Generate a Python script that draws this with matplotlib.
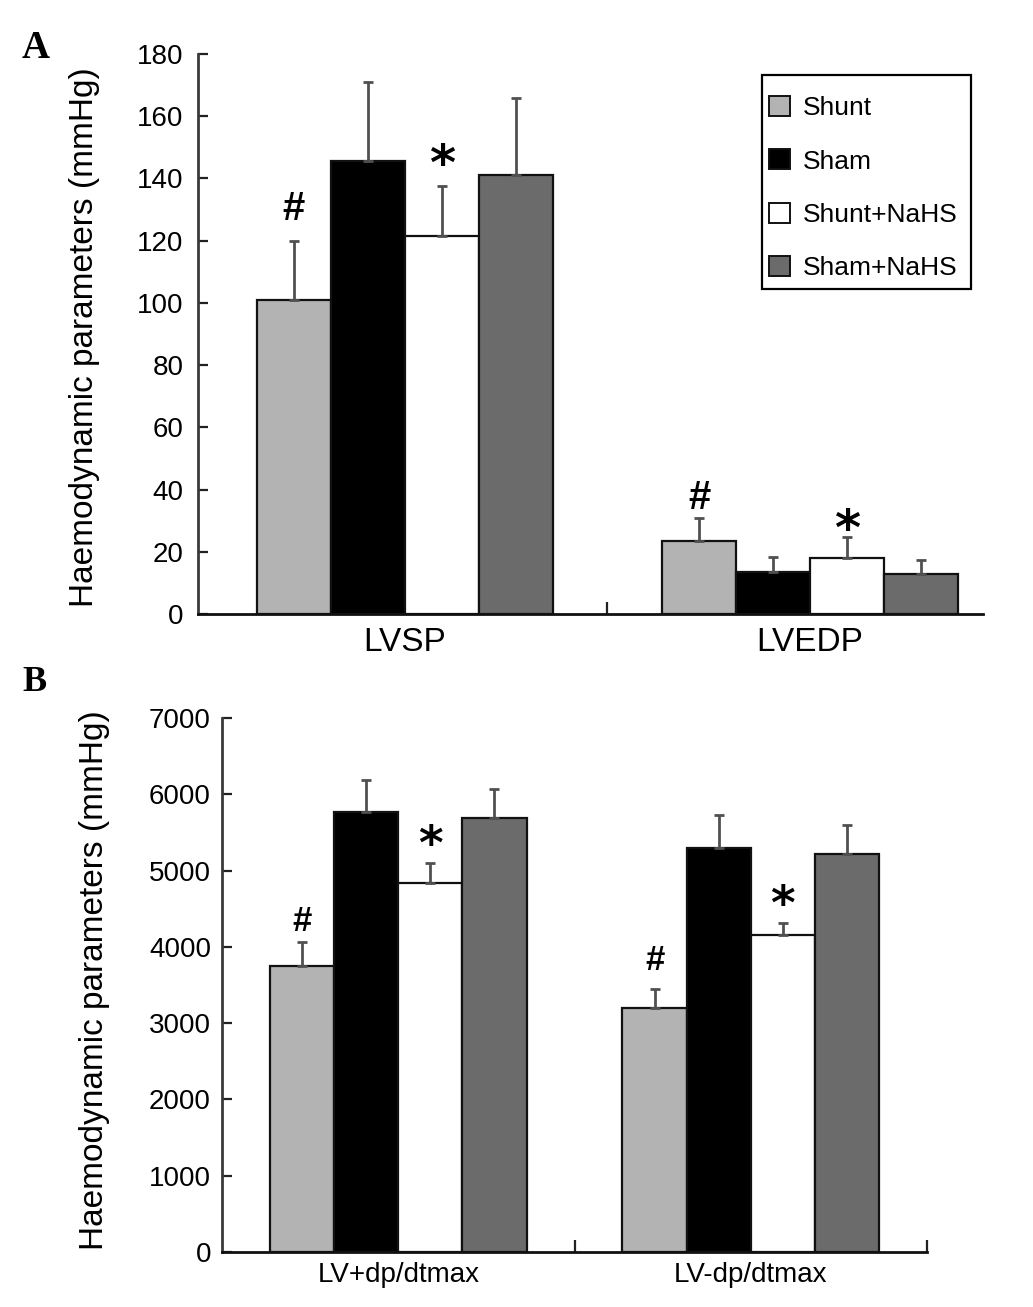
import matplotlib
matplotlib.use("Agg")
import matplotlib.pyplot as plt
import numpy as np
from matplotlib.patches import Patch, Rectangle
from matplotlib.ticker import FixedLocator

plt.rcParams['font.family'] = ['Liberation Sans', 'DejaVu Sans']

# ---------------- data ----------------
groups = ["Shunt", "Sham", "Shunt+NaHS", "Sham+NaHS"]
colors = ["#b3b3b3", "#000000", "#ffffff", "#6b6b6b"]

cats_a = ["LVSP", "LVEDP"]
mean_a = {
    "Shunt":      [101.0, 23.5],
    "Sham":       [145.5, 13.5],
    "Shunt+NaHS": [121.5, 18.1],
    "Sham+NaHS":  [141.0, 13.0],
}
err_a = {
    "Shunt":      [19.0, 7.4],
    "Sham":       [25.5, 4.9],
    "Shunt+NaHS": [16.0, 6.8],
    "Sham+NaHS":  [25.0, 4.4],
}
yticks_a = [0, 20, 40, 60, 80, 100, 120, 140, 160, 180]

cats_b = ["LV+dp/dtmax", "LV-dp/dtmax"]
mean_b = {
    "Shunt":      [3750, 3205],
    "Sham":       [5765, 5300],
    "Shunt+NaHS": [4835, 4150],
    "Sham+NaHS":  [5695, 5215],
}
err_b = {
    "Shunt":      [320, 245],
    "Sham":       [420, 430],
    "Shunt+NaHS": [270, 165],
    "Sham+NaHS":  [380, 380],
}
yticks_b = [0, 1000, 2000, 3000, 4000, 5000, 6000, 7000]

# significance marks: (group, symbol)
marks = [("Shunt", "#"), ("Shunt+NaHS", "*")]

ylabel = "Haemodynamic parameters (mmHg)"

# ---------------- figure ----------------
W, H = 1033, 1307
fig = plt.figure(figsize=(W / 100, H / 100), dpi=100)


def px_axes(left, right, top, bottom):
    return fig.add_axes([left / W, 1 - bottom / H, (right - left) / W, (bottom - top) / H])


def draw_panel(ax, cats, means, errs, yticks, xlim, width, tick_fs, xlab_fs,
               xpad, ypad, minor_x, mark_offsets, hash_fs, star_fs):
    x = np.arange(len(cats))
    n = len(groups)
    for i, g in enumerate(groups):
        xi = x + (i - (n - 1) / 2) * width
        ax.bar(xi, means[g], width=width, color=colors[i], edgecolor="#111111",
               linewidth=1.6, zorder=2, label=g)
        ax.errorbar(xi, means[g], yerr=[np.zeros(len(cats)), errs[g]], fmt="none",
                    ecolor="#505050", elinewidth=2.0, capsize=3.6, capthick=2.0, zorder=3)
        for grp, sym in marks:
            if grp != g:
                continue
            for j in range(len(cats)):
                top = means[g][j] + errs[g][j]
                off = mark_offsets[sym][j]
                ax.annotate(sym, (xi[j], top), xytext=(0, off), textcoords="offset pixels",
                            ha="center", va="baseline",
                            fontsize=(hash_fs if sym == "#" else star_fs),
                            fontweight="bold",
                            family=(["Liberation Sans"] if sym == "#" else ["DejaVu Sans"]),
                            zorder=4)
    ax.set_xlim(*xlim)
    ax.set_ylim(yticks[0], yticks[-1])
    ax.set_yticks(yticks)
    ax.set_xticks(x)
    ax.set_xticklabels(cats, fontsize=xlab_fs)
    ax.xaxis.set_minor_locator(FixedLocator(minor_x))
    ax.tick_params(axis="x", which="major", length=0, pad=xpad)
    ax.tick_params(axis="x", which="minor", direction="in", length=9, width=1.6, color="#222222")
    ax.tick_params(axis="y", direction="in", length=7, width=1.6, colors="#222222",
                   labelsize=tick_fs, pad=ypad, labelcolor="black")
    for s in ("top", "right"):
        ax.spines[s].set_visible(False)
    ax.spines["left"].set_linewidth(2.0)
    ax.spines["left"].set_color("#3a3a3a")
    ax.spines["bottom"].set_linewidth(2.0)
    ax.spines["bottom"].set_color("#111111")


# ---- Panel A ----
axA = px_axes(197.5, 983, 54, 614)
draw_panel(axA, cats_a, mean_a, err_a, yticks_a, (-0.512, 1.427), 0.1827,
           tick_fs=20, xlab_fs=24, xpad=9, ypad=10, minor_x=[0.5],
           mark_offsets={"#": [21, 9], "*": [6, -8]}, hash_fs=29, star_fs=36)

leg = axA.legend(handles=[Patch(facecolor=c, edgecolor="#111111", linewidth=1.4, label=g)
                          for g, c in zip(groups, colors)],
                 loc="upper left", bbox_to_anchor=(769 / W, 1 - 96 / H),
                 bbox_transform=fig.transFigure, borderaxespad=0, fontsize=19,
                 frameon=False, borderpad=0,
                 labelspacing=1.1, handlelength=0.8, handleheight=0.8,
                 handletextpad=0.5)
fig.patches.append(Rectangle((762 / W, 1 - 289 / H), (971 - 762) / W, (289 - 75) / H,
                             transform=fig.transFigure, facecolor="none",
                             edgecolor="black", linewidth=1.6, zorder=5))

fig.text(85 / W, 1 - 337 / H, ylabel, rotation=90, ha="center", va="center", fontsize=24)
fig.text(22 / W, 1 - 58 / H, "A", ha="left", va="baseline", fontsize=28,
         fontweight="bold", family=["Liberation Serif", "DejaVu Serif"])

# ---- Panel B ----
axB = px_axes(222, 927, 718, 1252)
draw_panel(axB, cats_b, mean_b, err_b, yticks_b, (-0.5, 1.5), 0.182,
           tick_fs=20, xlab_fs=20, xpad=7, ypad=8, minor_x=[0.5, 1.5],
           mark_offsets={"#": [11, 19], "*": [4, 4]}, hash_fs=25, star_fs=34)

fig.text(95 / W, 1 - 980 / H, ylabel, rotation=90, ha="center", va="center", fontsize=24)
fig.text(22 / W, 1 - 691 / H, "B", ha="left", va="baseline", fontsize=26,
         fontweight="bold", family=["Liberation Serif", "DejaVu Serif"])

fig.savefig("out.png", dpi=100)
